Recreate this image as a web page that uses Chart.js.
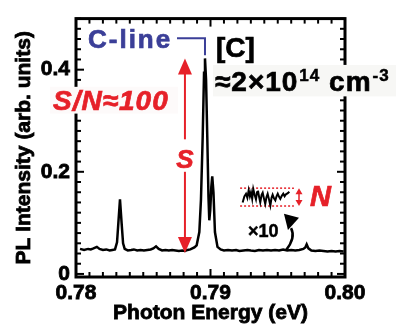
<!DOCTYPE html>
<html>
<head>
<meta charset="utf-8">
<script src="https://cdn.jsdelivr.net/npm/chart.js@4/dist/chart.umd.min.js"></script>
<style>
html,body{margin:0;padding:0;background:#fff;}
</style>
</head>
<body>
<canvas id="pl-chart" width="396" height="326"></canvas>
<script>
// PL spectrum, values
const energy = [
  0.78030,0.78060,0.78090,0.78110,0.78130,0.78155,0.78175,0.78200,0.78225,0.78250,
  0.78270,0.78290,0.78305,0.78315,0.78327,0.78339,0.78350,0.78362,0.78385,0.78410,
  0.78430,0.78455,0.78480,0.78505,0.78530,0.78555,0.78575,0.78595,0.78615,0.78640,
  0.78665,0.78690,0.78715,0.78740,0.78765,0.78790,0.78810,0.78830,0.78850,0.78865,
  0.78880,0.78897,0.78917,0.78929,0.78942,0.78952,0.78959,0.78967,0.78976,0.78985,
  0.78991,0.78998,0.79006,0.79013,0.79022,0.79033,0.79052,0.79075,0.79100,0.79130,
  0.79160,0.79190,0.79215,0.79245,0.79275,0.79300,0.79330,0.79360,0.79390,0.79420,
  0.79450,0.79480,0.79510,0.79540,0.79570,0.79600,0.79630,0.79660,0.79690,0.79705,
  0.79715,0.79728,0.79750,0.79780,0.79810,0.79840,0.79870,0.79900,0.79930,0.79960,
  0.79990
];
const intensity = [
  0.049,0.047,0.049,0.048,0.050,0.053,0.049,0.047,0.048,0.046,
  0.047,0.048,0.062,0.100,0.146,0.100,0.060,0.049,0.046,0.047,
  0.048,0.046,0.047,0.046,0.047,0.048,0.050,0.054,0.049,0.046,
  0.047,0.046,0.047,0.046,0.045,0.046,0.045,0.047,0.048,0.050,
  0.052,0.056,0.082,0.145,0.269,0.394,0.422,0.380,0.269,0.150,
  0.105,0.125,0.170,0.191,0.160,0.082,0.053,0.048,0.046,0.047,
  0.046,0.047,0.045,0.046,0.047,0.046,0.045,0.047,0.046,0.047,
  0.046,0.047,0.046,0.048,0.046,0.047,0.046,0.047,0.049,0.052,
  0.058,0.050,0.046,0.045,0.046,0.045,0.044,0.045,0.044,0.045,
  0.044
];

// background noise shown x10
const noiseEnergy = [
  0.79239,0.79252,0.79264,0.79274,0.79284,0.79293,0.79301,0.79310,0.79318,0.79328,
  0.79338,0.79346,0.79353,0.79362,0.79370,0.79380,0.79388,0.79398,0.79407,0.79416,
  0.79425,0.79435,0.79445,0.79454,0.79462,0.79472,0.79482,0.79491,0.79500,0.79510,
  0.79519,0.79530,0.79541,0.79551,0.79561,0.79575,0.79586
];
const noiseIntensity = [
  0.140,0.152,0.157,0.149,0.164,0.152,0.160,0.147,0.166,0.155,
  0.146,0.160,0.163,0.150,0.140,0.155,0.159,0.147,0.137,0.150,
  0.157,0.146,0.134,0.149,0.155,0.148,0.144,0.152,0.157,0.151,
  0.147,0.153,0.157,0.152,0.156,0.158,0.161
];
const noiseBand = [0.7922, 0.7962];
const noiseLevels = [0.168, 0.133];

// S arrow (baseline -> C-line peak)
const signalEnergy = 0.7881;
const signalLevels = [0.041, 0.422];

const xTicks = [0.78, 0.79, 0.80];
const xTickLabels = ['0.78', '0.79', '0.80'];
const yTicks = [0, 0.2, 0.4];
const yTickLabels = ['0', '0.2', '0.4'];
const xTitle = 'Photon Energy (eV)';
const yTitle = 'PL Intensity (arb. units)';

const FONT = "'Liberation Sans', Arial, sans-serif";
const RED = '#e62129';
const BLUE = '#3b3f98';

function pts(xs, ys){ return xs.map((x,i)=>({x:x, y:ys[i]})); }

const overlay = {
  id:'overlay',
  afterDraw(chart){
    const c = chart.ctx, a = chart.chartArea;
    const X = e => chart.scales.x.getPixelForValue(e);
    const Y = v => chart.scales.y.getPixelForValue(v);
    const line = (x1,y1,x2,y2)=>{ c.beginPath(); c.moveTo(x1,y1); c.lineTo(x2,y2); c.stroke(); };
    const tri = (p)=>{ c.beginPath(); c.moveTo(p[0],p[1]); c.lineTo(p[2],p[3]); c.lineTo(p[4],p[5]); c.closePath(); c.fill(); };
    // heavy text: fill plus a thin stroke in the same colour
    const txt = (s,x,y,col,w)=>{ c.fillStyle = col; c.strokeStyle = col; c.lineWidth = w||0.7;
      c.fillText(s,x,y); c.strokeText(s,x,y); };
    c.save();

    // inward ticks on all four sides
    c.strokeStyle = '#000'; c.lineWidth = 2;
    for(let i=0;i<=20;i++){
      const px = X(0.78 + i*0.001), len = i%10===0 ? 8 : 5;
      line(px, a.bottom, px, a.bottom-len);
      line(px, a.top, px, a.top+len);
    }
    for(let i=0;i<=25;i++){
      const py = Y(i*0.02), len = i%10===0 ? 8 : 5;
      line(a.left, py, a.left+len, py);
      line(a.right, py, a.right-len, py);
    }
    c.lineWidth = 3;
    c.strokeRect(a.left, a.top, a.right-a.left, a.bottom-a.top);

    // axis titles
    c.font = 'bold 21px ' + FONT; c.textAlign = 'center'; c.textBaseline = 'middle';
    txt(xTitle, (a.left+a.right)/2, 313, '#000', 0.8);
    c.save();
    c.translate(24, (a.top+a.bottom)/2); c.rotate(-Math.PI/2);
    txt(yTitle, 0, 0, '#000', 0.8);
    c.restore();

    // S arrow
    const sx = X(signalEnergy), sLo = Y(signalLevels[0]), sHi = Y(signalLevels[1]);
    c.strokeStyle = RED; c.fillStyle = RED; c.lineWidth = 2;
    line(sx, sHi+12, sx, sLo-12);
    tri([sx, sHi, sx-7, sHi+16, sx+7, sHi+16]);
    tri([sx, sLo, sx-7, sLo-16, sx+7, sLo-16]);

    // N double arrow
    const nx = X(0.79658), nTop = Y(noiseLevels[0]), nBot = Y(noiseLevels[1]);
    c.lineWidth = 1.5;
    line(nx, nTop+4, nx, nBot-4);
    tri([nx, nTop, nx-3.5, nTop+6, nx+3.5, nTop+6]);
    tri([nx, nBot, nx-3.5, nBot-6, nx+3.5, nBot-6]);

    // curved arrow from x10 to noise trace
    c.strokeStyle = '#000'; c.fillStyle = '#000'; c.lineWidth = 2.5;
    c.beginPath();
    c.moveTo(X(0.79561), Y(0.0465));
    c.quadraticCurveTo(X(0.79636), Y(0.0708), X(0.79599), Y(0.0896));
    c.stroke();
    tri([X(0.79546), Y(0.1177), X(0.79658), Y(0.1102), X(0.79576), Y(0.0858)]);

    // C-line bracket
    c.strokeStyle = BLUE; c.lineWidth = 2;
    c.beginPath();
    c.moveTo(X(0.78751), Y(0.4617));
    c.lineTo(X(0.78959), Y(0.4617));
    c.lineTo(X(0.78959), Y(0.428));
    c.stroke();

    c.textBaseline = 'alphabetic'; c.textAlign = 'left';
    c.font = 'bold 26px ' + FONT; c.letterSpacing = '2px';
    txt('C-line', X(0.78089), Y(0.443), BLUE);
    c.letterSpacing = '0px';

    // [C] and concentration
    c.font = 'bold 28px ' + FONT;
    txt('[C]', X(0.79041), Y(0.4243), '#000');
    c.fillStyle = '#f7f7f5';
    c.fillRect(X(0.79019), Y(0.4093), 396 - X(0.79019), Y(0.3477) - Y(0.4093));
    let tx = X(0.79033); const tb = Y(0.3589);
    c.font = 'bold 28px ' + FONT; c.letterSpacing = '1px';
    txt('\u22482\u00d710', tx, tb, '#000'); tx += c.measureText('\u22482\u00d710').width;
    c.font = 'bold 17px ' + FONT;
    txt('14', tx+1, tb-10, '#000', 0.5); tx += c.measureText('14').width + 1;
    c.font = 'bold 28px ' + FONT;
    txt(' cm', tx, tb, '#000'); tx += c.measureText(' cm').width;
    c.font = 'bold 17px ' + FONT;
    txt('-3', tx+1, tb-10, '#000', 0.5);
    c.letterSpacing = '0px';

    // S/N label
    c.fillStyle = '#fdfafa';
    c.fillRect(X(0.77807), Y(0.3664), X(0.78758)-X(0.77807), Y(0.314)-Y(0.3664));
    c.font = 'italic bold 28px ' + FONT; c.letterSpacing = '1px';
    txt('S/N\u2248100', X(0.77829), Y(0.3215), RED);
    c.letterSpacing = '0px';

    // S label on the arrow
    c.fillStyle = '#fff';
    c.fillRect(sx-10, Y(0.2636), 20, Y(0.200)-Y(0.2636));
    c.textAlign = 'center';
    c.font = 'italic bold 26px ' + FONT;
    txt('S', sx, Y(0.2075), RED);

    // N label and x10
    c.textAlign = 'left';
    c.font = 'italic bold 29px ' + FONT;
    txt('N', X(0.79740), Y(0.1327), RED);
    c.font = 'bold 18px ' + FONT;
    txt('\u00d710', X(0.79279), Y(0.0729), '#000', 0.5);
    c.restore();
  }
};

new Chart(document.getElementById('pl-chart'), {
  type:'scatter',
  data:{
    datasets:[
      { label:'PL', data:pts(energy, intensity), showLine:true, borderColor:'#000', borderWidth:2.5,
        pointRadius:0, tension:0, order:1 },
      { label:'noise x10', data:pts(noiseEnergy, noiseIntensity), showLine:true, borderColor:'#000',
        borderWidth:2, pointRadius:0, tension:0, order:2 },
      { label:'N top', data:pts(noiseBand, [noiseLevels[0], noiseLevels[0]]), showLine:true,
        borderColor:RED, borderWidth:1.5, borderDash:[2,2], pointRadius:0, order:3 },
      { label:'N bottom', data:pts(noiseBand, [noiseLevels[1], noiseLevels[1]]), showLine:true,
        borderColor:RED, borderWidth:1.5, borderDash:[2,2], pointRadius:0, order:3 }
    ]
  },
  options:{
    responsive:false,
    animation:false,
    layout:{ padding:{ left:0, right:51, top:7, bottom:0 } },
    plugins:{ legend:{display:false}, tooltip:{enabled:false} },
    scales:{
      x:{
        type:'linear', min:0.78, max:0.80,
        afterBuildTicks: s => { s.ticks = xTicks.map(v=>({value:v})); },
        afterFit: s => { s.height = 49; },
        ticks:{ color:'#000', padding:4, maxRotation:0, textStrokeColor:'#000', textStrokeWidth:0.8,
          font:{family:FONT, size:21, weight:'bold'}, callback:(v,i)=>xTickLabels[i] },
        grid:{ display:false, drawTicks:false },
        border:{ display:false }
      },
      y:{
        type:'linear', min:-0.006, max:0.5,
        afterBuildTicks: s => { s.ticks = yTicks.map(v=>({value:v})); },
        afterFit: s => { s.width = 76; },
        ticks:{ color:'#000', padding:6, textStrokeColor:'#000', textStrokeWidth:0.8,
          font:{family:FONT, size:21, weight:'bold'}, callback:(v,i)=>yTickLabels[i] },
        grid:{ display:false, drawTicks:false },
        border:{ display:false }
      }
    }
  },
  plugins:[overlay]
});
</script>
</body>
</html>
